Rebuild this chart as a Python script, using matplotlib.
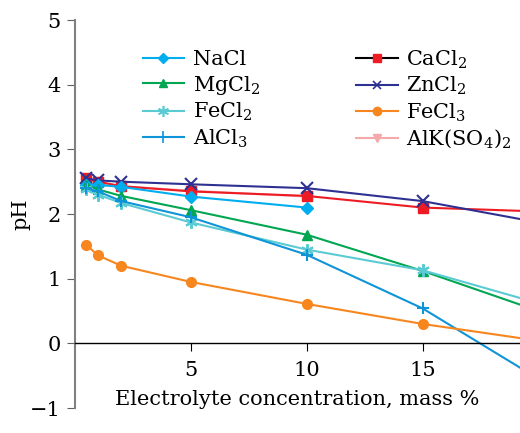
import numpy as np
from matplotlib import pyplot as plt
from matplotlib.lines import Line2D

plt.rcParams['font.family'] = 'DejaVu Serif'
plt.rcParams['mathtext.fontset'] = 'dejavuserif'

# concentrations, mass %
conc = [0.5, 1, 2, 5, 10, 15, 20]
conc_nacl = [0.5, 1, 2, 5, 10]

ph_nacl = [2.45, 2.45, 2.42, 2.27, 2.10]
ph_mgcl2 = [2.45, 2.38, 2.28, 2.06, 1.68, 1.12, 0.50]
ph_fecl2 = [2.38, 2.30, 2.17, 1.87, 1.45, 1.13, 0.62]
ph_alcl3 = [2.40, 2.35, 2.20, 1.95, 1.37, 0.54, -0.55]
ph_cacl2 = [2.55, 2.50, 2.43, 2.35, 2.28, 2.10, 2.04]
ph_zncl2 = [2.55, 2.52, 2.50, 2.46, 2.40, 2.20, 1.87]
ph_fecl3 = [1.52, 1.36, 1.20, 0.95, 0.61, 0.30, 0.04]
conc_alk = [0.5, 1, 2, 5, 10]
ph_alk = [2.53, 2.49, 2.43, 2.36, 2.27]

fig = plt.figure(figsize=(5.2, 4.33), dpi=100)
ax = fig.add_axes([0.144, 0.0577, 0.856, 0.896])

lw = 1.5
ax.plot(conc_alk, ph_alk, color='#f6a9ab', marker='v', ms=7, lw=lw)
ax.plot(conc, ph_cacl2, color='#ed1c24', marker='s', ms=7, lw=lw)
ax.plot(conc, ph_zncl2, color='#2e3192', marker='x', ms=8, mew=1.5, lw=lw)
ax.plot(conc_nacl, ph_nacl, color='#00aeef', marker='D', ms=6, lw=lw)
ax.plot(conc, ph_mgcl2, color='#00a651', marker='^', ms=7, lw=lw)
ax.plot(conc, ph_fecl2, color='#5bcbd3', marker=(6, 2, 0), ms=9, mew=1.5, lw=lw)
ax.plot(conc, ph_alcl3, color='#0f94d8', marker='+', ms=9, mew=1.5, lw=lw)
ax.plot(conc, ph_fecl3, color='#f7861e', marker='o', ms=7, lw=lw)

ax.set_xlim(0, 19.2)
ax.set_ylim(-1, 5)
ax.set_xticks([5, 10, 15])
ax.set_yticks(range(-1, 6))

ax.spines['top'].set_visible(False)
ax.spines['right'].set_visible(False)
ax.spines['bottom'].set_position(('data', 0))
ax.spines['bottom'].set_linewidth(1.0)
ax.spines['left'].set_color('#808080')
ax.spines['left'].set_linewidth(1.5)
ax.tick_params(axis='both', labelsize=15, length=6, direction='out')
ax.tick_params(axis='y', color='#606060', pad=4)
ax.tick_params(axis='x', pad=7)

ax.set_ylabel('pH', fontsize=15)
ax.yaxis.set_label_coords(-0.1, 0.5)
ax.set_xlabel('Electrolyte concentration, mass %', fontsize=15, labelpad=7)

handles = [
    Line2D([], [], color='#00aeef', marker='D', ms=5, lw=lw),
    Line2D([], [], color='#00a651', marker='^', ms=6, lw=lw),
    Line2D([], [], color='#5bcbd3', marker=(6, 2, 0), ms=8, mew=1.2, lw=lw),
    Line2D([], [], color='#0f94d8', marker='+', ms=8, mew=1.2, lw=lw),
    Line2D([], [], color='black', marker='s', mfc='#ed1c24', mec='#ed1c24', ms=6, lw=lw),
    Line2D([], [], color='#2e3192', marker='x', ms=6, mew=1.2, lw=lw),
    Line2D([], [], color='#f7861e', marker='o', ms=6, lw=lw),
    Line2D([], [], color='#f6a9ab', marker='v', ms=6, lw=lw),
]
labels = ['NaCl', r'MgCl$_2$', r'FeCl$_2$', r'AlCl$_3$',
          r'CaCl$_2$', r'ZnCl$_2$', r'FeCl$_3$', r'AlK(SO$_4$)$_2$']
ax.legend(handles, labels, ncol=2, frameon=False, fontsize=15,
          loc='upper left', bbox_to_anchor=(0.11, 0.975),
          handlelength=2.0, handletextpad=0.4, columnspacing=4.6,
          labelspacing=0.2)

fig.savefig('out.png', dpi=100)
